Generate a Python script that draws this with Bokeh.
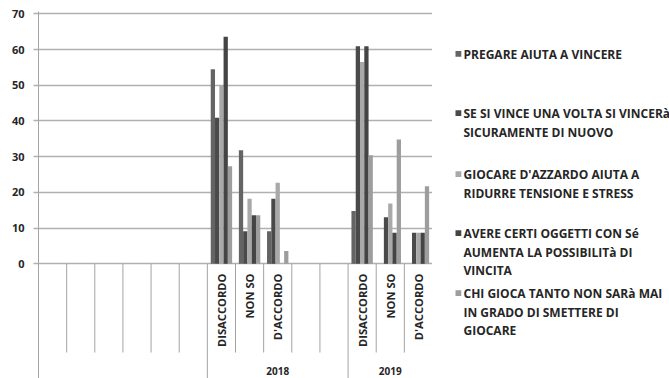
from math import pi

from bokeh.core.properties import value
from bokeh.embed import file_html
from bokeh.layouts import row
from bokeh.models import FixedTicker, Range1d
from bokeh.plotting import figure
from bokeh.resources import INLINE

# ---- data -------------------------------------------------------------
groups = ["", "2018", "2019"]
group_sizes = [6, 5, 3]
categories = ["", "", "", "", "", "",
              "DISACCORDO", "NON SO", "D'ACCORDO", "", "",
              "DISACCORDO", "NON SO", "D'ACCORDO"]

series_names = [
    "PREGARE AIUTA A VINCERE",
    "SE SI VINCE UNA VOLTA SI VINCERà\nSICURAMENTE DI NUOVO",
    "GIOCARE D'AZZARDO AIUTA A\nRIDURRE TENSIONE E STRESS",
    "AVERE CERTI OGGETTI CON Sé\nAUMENTA LA POSSIBILITà DI\nVINCITA",
    "CHI GIOCA TANTO NON SARà MAI\nIN GRADO DI SMETTERE DI\nGIOCARE",
]
pregare = [0, 0, 0, 0, 0, 0, 54.5, 31.8, 9.1, 0, 0, 14.8, 0, 0]
vince = [0, 0, 0, 0, 0, 0, 40.9, 9.1, 18.2, 0, 0, 60.9, 13.0, 8.7]
azzardo = [0, 0, 0, 0, 0, 0, 50.0, 18.2, 22.7, 0, 0, 56.5, 16.9, 8.7]
oggetti = [0, 0, 0, 0, 0, 0, 63.6, 13.6, 0, 0, 0, 60.9, 8.7, 8.7]
smettere = [0, 0, 0, 0, 0, 0, 27.3, 13.6, 3.6, 0, 0, 30.4, 34.8, 21.7]
series_values = [pregare, vince, azzardo, oggetti, smettere]
y_ticks = [0, 10, 20, 30, 40, 50, 60, 70]

# ---- styling ----------------------------------------------------------
colors = ["#646464", "#4a4a4a", "#a9a9a9", "#444444", "#9d9d9d"]
FONT = value("Open Sans")
TEXT = "#262626"
GRID = "#b0b0b0"
SEP = "#a3a3a3"

W, H = 669, 378
LEGEND_W = 237
CHART_W = W - LEGEND_W
LEFT, TOP = 38, 11
PX_PER_UNIT = 250 / 70          # vertical pixels per value unit
Y_MAX = 70 + 2.3 / PX_PER_UNIT
Y_MIN = Y_MAX - (H - TOP) / PX_PER_UNIT
N = len(categories)


def y_of(py):
    """Vertical canvas pixel -> y data coordinate."""
    return Y_MAX - (py - TOP) / PX_PER_UNIT


p = figure(
    width=CHART_W, height=H,
    x_range=Range1d(0, N), y_range=Range1d(Y_MIN, Y_MAX),
    x_axis_location=None,
    output_backend="svg", toolbar_location=None,
    min_border_left=LEFT, min_border_right=0,
    min_border_top=TOP, min_border_bottom=0,
)
p.outline_line_color = None
p.background_fill_color = "white"
p.border_fill_color = "white"

# value axis and horizontal grid
p.yaxis.ticker = FixedTicker(ticks=y_ticks)
p.yaxis.major_tick_in = 0
p.yaxis.major_tick_out = 5
p.yaxis.minor_tick_out = 0
p.yaxis.minor_tick_in = 0
p.yaxis.major_tick_line_color = GRID
p.yaxis.major_tick_line_width = 1.5
p.yaxis.axis_line_color = SEP
p.yaxis.axis_line_width = 1
p.yaxis.major_label_standoff = 9
p.yaxis.major_label_text_font = "Open Sans"
p.yaxis.major_label_text_font_size = "11px"
p.yaxis.major_label_text_color = TEXT
p.yaxis.major_label_text_font_style = "bold"
p.xgrid.visible = False
p.ygrid.grid_line_color = GRID
p.ygrid.grid_line_width = 1.5

# clustered bars
BW = 0.152
for i, (vals, col) in enumerate(zip(series_values, colors)):
    xs = [c + 0.5 + (i - 2) * BW for c in range(N)]
    p.vbar(x=xs, top=vals, bottom=0, width=BW, fill_color=col, line_color=None)

# category separators below the axis
bounds = [0]
for s in group_sizes:
    bounds.append(bounds[-1] + s)
inner = [b for b in range(1, N) if b not in bounds]
p.segment(x0=inner, y0=[0] * len(inner), x1=inner, y1=[y_of(352)] * len(inner),
          line_color=SEP, line_width=1)
p.segment(x0=bounds, y0=[0] * len(bounds), x1=bounds, y1=[Y_MIN] * len(bounds),
          line_color=SEP, line_width=1)

# rotated category labels
lab_x = [c + 0.5 for c, t in enumerate(categories) if t]
lab_t = [t for t in categories if t]
p.text(x=lab_x, y=[y_of(273)] * len(lab_x), text=lab_t, angle=pi / 2,
       text_align="right", text_baseline="middle",
       text_font=FONT, text_font_size="11.2px", text_font_style="bold",
       text_color=TEXT)

# group labels
gx, gt = [], []
for g, a, b in zip(groups, bounds[:-1], bounds[1:]):
    if g:
        gx.append((a + b) / 2)
        gt.append(g)
p.text(x=gx, y=[y_of(370)] * len(gx), text=gt, text_align="center",
       text_baseline="middle", text_font=FONT, text_font_size="10px",
       text_font_style="bold", text_color=TEXT)

# ---- legend panel (coordinates in canvas pixels, y grows downward) ----
leg = figure(
    width=LEGEND_W, height=H,
    x_range=Range1d(0, LEGEND_W), y_range=Range1d(H, TOP),
    x_axis_location=None, y_axis_location=None,
    output_backend="svg", toolbar_location=None,
    min_border=0, min_border_top=TOP,
)
leg.outline_line_color = None
leg.grid.visible = False
leg.background_fill_color = "white"
leg.border_fill_color = "white"

first_line = [54, 113.3, 174.3, 233.3, 293.3]
LINE_H = 18.3
SQ_X0, SQ_X1, TXT_X = 23, 28.8, 31
leg.quad(left=[SQ_X0] * 5, right=[SQ_X1] * 5,
         top=[y - 3.6 for y in first_line], bottom=[y + 2.2 for y in first_line],
         fill_color=colors, line_color=None)
tx, ty, tt = [], [], []
for name, y0 in zip(series_names, first_line):
    for k, line in enumerate(name.split("\n")):
        tx.append(TXT_X)
        ty.append(y0 + k * LINE_H)
        tt.append(line)
leg.text(x=tx, y=ty, text=tt, text_align="left", text_baseline="middle",
         text_font=FONT, text_font_size="12px", text_font_style="bold",
         text_color=TEXT)

layout = row(p, leg, spacing=0)
open("out.html", "w").write(file_html(layout, INLINE))
